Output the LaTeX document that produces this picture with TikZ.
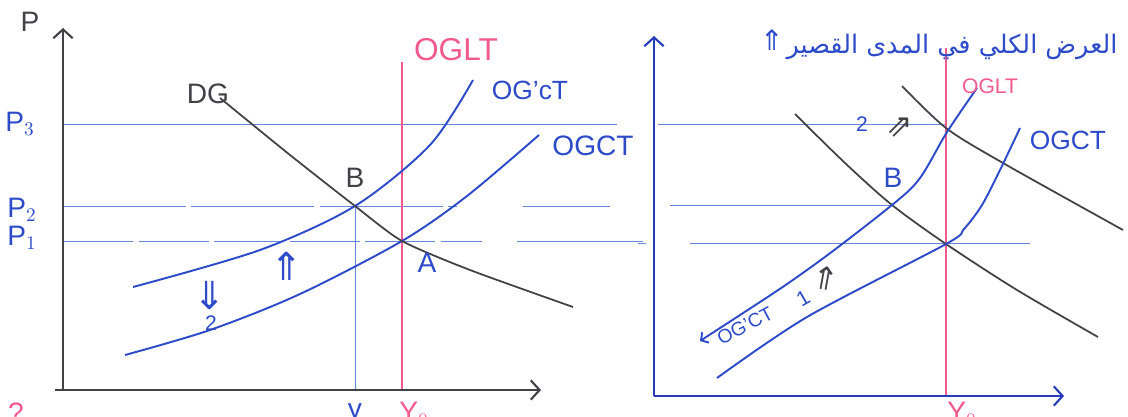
\documentclass[tikz,border=0pt]{standalone}
\usepackage{fontspec}
\setmainfont{Liberation Sans}
\newfontfamily\arabicfont[Script=Arabic]{DejaVu Sans}
\newfontfamily\symfont{DejaVu Sans}
\TeXXeTstate=1
\usetikzlibrary{arrows.meta}
\definecolor{pen}{RGB}{45,75,200}
\definecolor{axisblue}{RGB}{40,60,185}
\definecolor{lightpen}{RGB}{100,135,220}
\definecolor{pinkpen}{RGB}{240,90,140}
\definecolor{graypen}{RGB}{65,65,72}
\tikzset{
  axisline/.style={line width=1.6pt, -{Straight Barb[length=5pt,width=11pt,line width=1.2pt]}},
  supply/.style={pen, line width=1.1pt},
  demand/.style={graypen, line width=1pt},
  guide/.style={lightpen, line width=0.5pt},
  ogltline/.style={pinkpen, line width=1.3pt},
  lbl/.style={inner sep=0pt, font=\fontsize{16}{18}\selectfont},
  smalllbl/.style={inner sep=0pt, font=\fontsize{12}{14}\selectfont},
  arr/.style={inner sep=0pt, pen, font=\symfont\fontsize{22}{24}\selectfont}
}
\begin{document}
\begin{tikzpicture}[x=0.02cm,y=-0.02cm]
\useasboundingbox (0,0) rectangle (1128,416);
% ---------------- left panel ----------------
\coordinate (LO) at (63,390);
\coordinate (LYtop) at (63,28);
\coordinate (LXend) at (541,390);
\coordinate (B) at (355,206);
\coordinate (A) at (402,241);
% guides
\draw[guide] (63,124) -- (617,124);
\draw[guide, dash pattern=on 70pt off 3pt] (63,206) -- (457,206);
\draw[guide] (523,206) -- (610,206);
\draw[guide, dash pattern=on 40pt off 3pt] (63,241) -- (482,241);
\draw[guide] (517,241) -- (643,241);
\draw[guide] (B) -- (355,390);
% OGLT
\draw[ogltline] (402,62) -- (402,390);
% supply curves
\draw[supply] plot[smooth, tension=0.5] coordinates {(125,355) (210,330) (300,294) (A) (467,196) (539,135)};
\draw[supply] plot[smooth, tension=0.5] coordinates {(133,287) (260,250) (B) (430,145) (473,80)};
% demand
\draw[demand] plot[smooth, tension=0.4] coordinates {(220,98) (290,155) (B) (A) (470,270) (573,307)};
% axes
\draw[axisline, graypen] (LO) -- (LYtop);
\draw[axisline, graypen] (55,390) -- (LXend);
% labels
\node[lbl, graypen] (lp) at (30,22) {P};
\node[lbl, pen] (lp3) at (20,124) {P$_3$};
\node[lbl, pen] (lp2) at (22,210) {P$_2$};
\node[lbl, pen] (lp1) at (22,238) {P$_1$};
\node[lbl, graypen] (ldg) at (208,94) {DG};
\node[lbl, graypen] (lB) at (355,178) {B};
\node[lbl, pen] (lA) at (427,263) {A};
\node[lbl, pinkpen, font=\fontsize{18}{20}\selectfont] (loglt) at (456,50) {OGLT};
\node[lbl, pen, font=\fontsize{15}{18}\selectfont] (log1) at (530,90) {OG'cT};
\node[lbl, pen, font=\fontsize{16}{18}\selectfont] (logct) at (593,146) {OGCT};
\node[arr] (lup) at (287,266) {⇑};
\node[arr] (ldown) at (210,295) {⇓};
\node[smalllbl, pen] (ltwo) at (211,323) {2};
\node[lbl, pen, anchor=north] (ly2) at (355,403) {y};
\node[lbl, pinkpen, anchor=north] (ly0) at (414,402) {Y$_0$};
\node[lbl, pinkpen, anchor=north] (lq) at (16,403) {?};
% ---------------- right panel ----------------
\coordinate (RO) at (654,396);
\coordinate (RYtop) at (654,36);
\coordinate (RXend) at (1064,396);
\coordinate (RB) at (892,205);
\coordinate (RA) at (946,244);
\coordinate (RC) at (946,128);
% guides
\draw[guide] (658,124) -- (946,124);
\draw[guide, -{Straight Barb[length=3pt,width=6pt]}] (670,205) -- (RB);
\draw[guide] (690,243) -- (1030,243);
\draw[guide] (638,243) -- (646,243);
% OGLT
\draw[ogltline] (946,48) -- (946,396);
% demand curves
\draw[demand] plot[smooth, tension=0.5] coordinates {(795,114) (845,163) (RB) (RA) (1017,290) (1098,337)};
\draw[demand] plot[smooth, tension=0.5] coordinates {(902,86) (RC) (1003,163) (1123,230)};
% supply curves
\draw[supply, {Straight Barb[length=3pt,width=7pt]}-] plot[smooth, tension=0.5] coordinates {(700,341) (807,270) (RB) (920,178) (947,132) (977,88)};
\draw[supply] plot[smooth, tension=0.5] coordinates {(717,378) (807,317) (RA) (964,229) (982,205) (1000,170) (1020,128)};
% axes
\draw[axisline, axisblue] (RO) -- (RYtop);
\draw[axisline, axisblue] (RO) -- (RXend);
% labels
\node[pen, inner sep=0pt] (rtitle) at (952,47) {\arabicfont\fontsize{14.5}{18}\selectfont\beginR العرض الكلي في المدى القصير\endR};
\node[arr, font=\symfont\fontsize{16}{18}\selectfont] (rtitarr) at (772,40) {⇑};
\node[smalllbl, pinkpen, font=\fontsize{12}{14}\selectfont] (roglt) at (990,86) {OGLT};
\node[lbl, pen, font=\fontsize{15}{18}\selectfont] (rogct) at (1068,140) {OGCT};
\node[lbl, pen] (rB) at (893,178) {B};
\node[smalllbl, pen] (rtwo) at (862,124) {2};
\node[arr, graypen, font=\symfont\fontsize{18}{20}\selectfont] (r2arr) at (900,128) {⇗};
\node[smalllbl, pen, rotate=28, font=\fontsize{11}{13}\selectfont] (rog1) at (745,326) {OG'CT};
\node[smalllbl, pen, rotate=30] (rone) at (803,298) {1};
\node[arr, graypen, font=\symfont\fontsize{18}{20}\selectfont, rotate=-10] (r1arr) at (826,278) {⇑};
\node[lbl, pinkpen, anchor=north] (ry0) at (962,402) {Y$_0$};
\end{tikzpicture}
\end{document}
